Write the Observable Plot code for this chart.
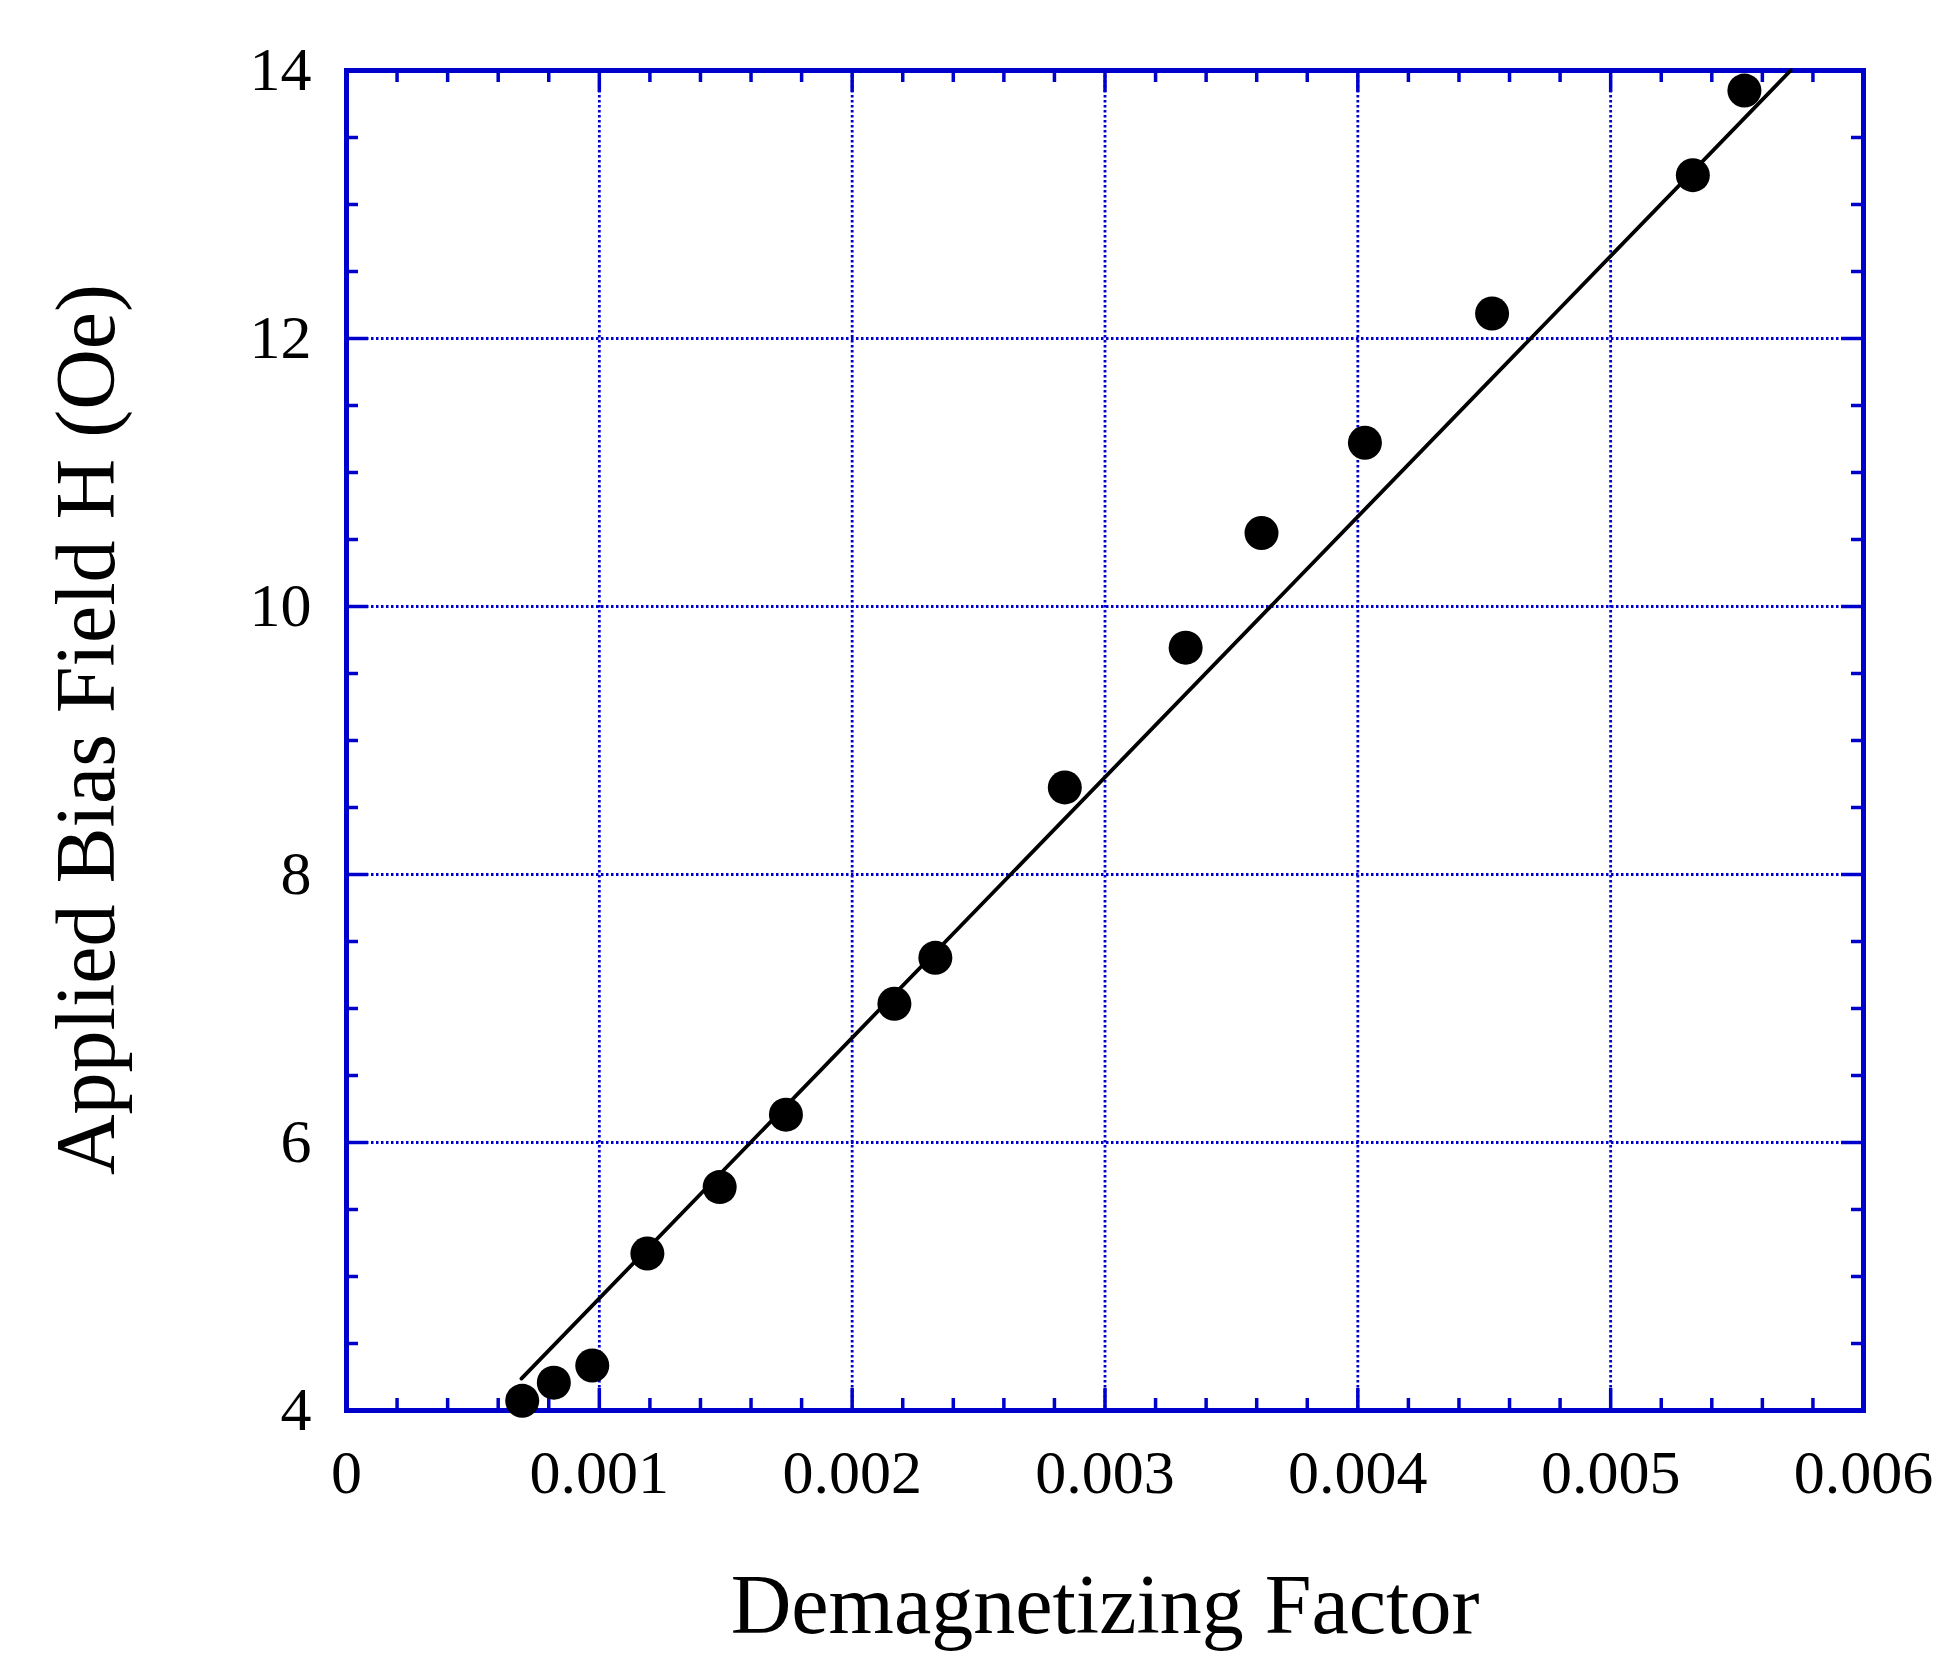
<!DOCTYPE html>
<html>
<head>
<meta charset="utf-8">
<script src="https://cdn.jsdelivr.net/npm/d3@7"></script>
<script src="https://cdn.jsdelivr.net/npm/@observablehq/plot@0.6"></script>
<style>
  html, body { margin: 0; padding: 0; background: white; }
</style>
</head>
<body>
<div id="chart"></div>
<script>
// Measured data
const demagFactor = [0.000695, 0.000820, 0.000972, 0.001190, 0.001476, 0.001738, 0.002167, 0.002329, 0.002841, 0.003319, 0.003619, 0.004028, 0.004531, 0.005325, 0.005529];
const biasField   = [4.072, 4.208, 4.336, 5.172, 5.667, 6.208, 7.035, 7.378, 8.650, 9.693, 10.549, 11.222, 12.186, 13.219, 13.850];

// Linear fit line endpoints
const fitX = [0.000692, 0.005712];
const fitY = [4.238, 14.0];

// Tick values
const xMajor = [0, 0.001, 0.002, 0.003, 0.004, 0.005, 0.006];
const xMinor = d3.range(0, 31).map(i => i * 0.0002).filter((_, i) => i % 5 !== 0);
const yMajor = [4, 6, 8, 10, 12, 14];
const yMinor = d3.range(0, 21).map(i => 4 + i * 0.5).filter((_, i) => i % 4 !== 0);

const xTitle = "Demagnetizing Factor";
const yTitle = "Applied Bias Field H (Oe)";

const points = demagFactor.map((x, i) => ({x, y: biasField[i]}));
const fit = fitX.map((x, i) => ({x, y: fitY[i]}));

const W = 1956, H = 1675;
const mL = 346, mR = 93, mT = 70, mB = 265;
const fw = W - mL - mR, fh = H - mT - mB;
const blue = "#0000cc";
const majLen = 22, minLen = 12;

const chart = Plot.plot({
  width: W,
  height: H,
  marginLeft: mL,
  marginRight: mR,
  marginTop: mT,
  marginBottom: mB,
  style: {fontFamily: "'Liberation Serif', 'Times New Roman', serif", background: "white", color: "black"},
  x: {type: "linear", domain: [0, 0.006]},
  y: {type: "linear", domain: [4, 14]},
  marks: [
    // grid
    Plot.gridX(xMajor.slice(1, -1), {stroke: blue, strokeOpacity: 1, strokeWidth: 2.8, strokeDasharray: "2.5,2.5"}),
    Plot.gridY(yMajor.slice(1, -1), {stroke: blue, strokeOpacity: 1, strokeWidth: 2.8, strokeDasharray: "2.5,2.5"}),
    // ticks (inward, all four sides)
    Plot.tickX(xMajor, {x: d => d, stroke: blue, strokeWidth: 3.5, insetTop: fh - majLen}),
    Plot.tickX(xMajor, {x: d => d, stroke: blue, strokeWidth: 3.5, insetBottom: fh - majLen}),
    Plot.tickX(xMinor, {x: d => d, stroke: blue, strokeWidth: 3.5, insetTop: fh - minLen}),
    Plot.tickX(xMinor, {x: d => d, stroke: blue, strokeWidth: 3.5, insetBottom: fh - minLen}),
    Plot.tickY(yMajor, {y: d => d, stroke: blue, strokeWidth: 3.5, insetRight: fw - majLen}),
    Plot.tickY(yMajor, {y: d => d, stroke: blue, strokeWidth: 3.5, insetLeft: fw - majLen}),
    Plot.tickY(yMinor, {y: d => d, stroke: blue, strokeWidth: 3.5, insetRight: fw - minLen}),
    Plot.tickY(yMinor, {y: d => d, stroke: blue, strokeWidth: 3.5, insetLeft: fw - minLen}),
    Plot.frame({stroke: blue, strokeWidth: 5}),
    // tick labels
    Plot.axisX({ticks: xMajor, tickSize: 0, tickPadding: 38, fontSize: 62, label: null,
      tickFormat: d => d === 0 ? "0" : d.toFixed(3)}),
    Plot.axisY({ticks: yMajor, tickSize: 0, tickPadding: 35, fontSize: 62, label: null,
      tickFormat: d => String(d)}),
    // fit line and points
    Plot.line(fit, {x: "x", y: "y", stroke: "black", strokeWidth: 3.8}),
    Plot.dot(points, {x: "x", y: "y", r: 17, fill: "black", stroke: "none"}),
    // titles
    Plot.text([xTitle], {frameAnchor: "bottom", dy: 222, fontSize: 84, lineAnchor: "bottom", textAnchor: "middle", fill: "black"}),
    Plot.text([yTitle], {frameAnchor: "left", dx: -233, dy: -11, rotate: -90, fontSize: 84, lineAnchor: "bottom", textAnchor: "middle", fill: "black"})
  ]
});
document.getElementById("chart").appendChild(chart);
</script>
</body>
</html>
